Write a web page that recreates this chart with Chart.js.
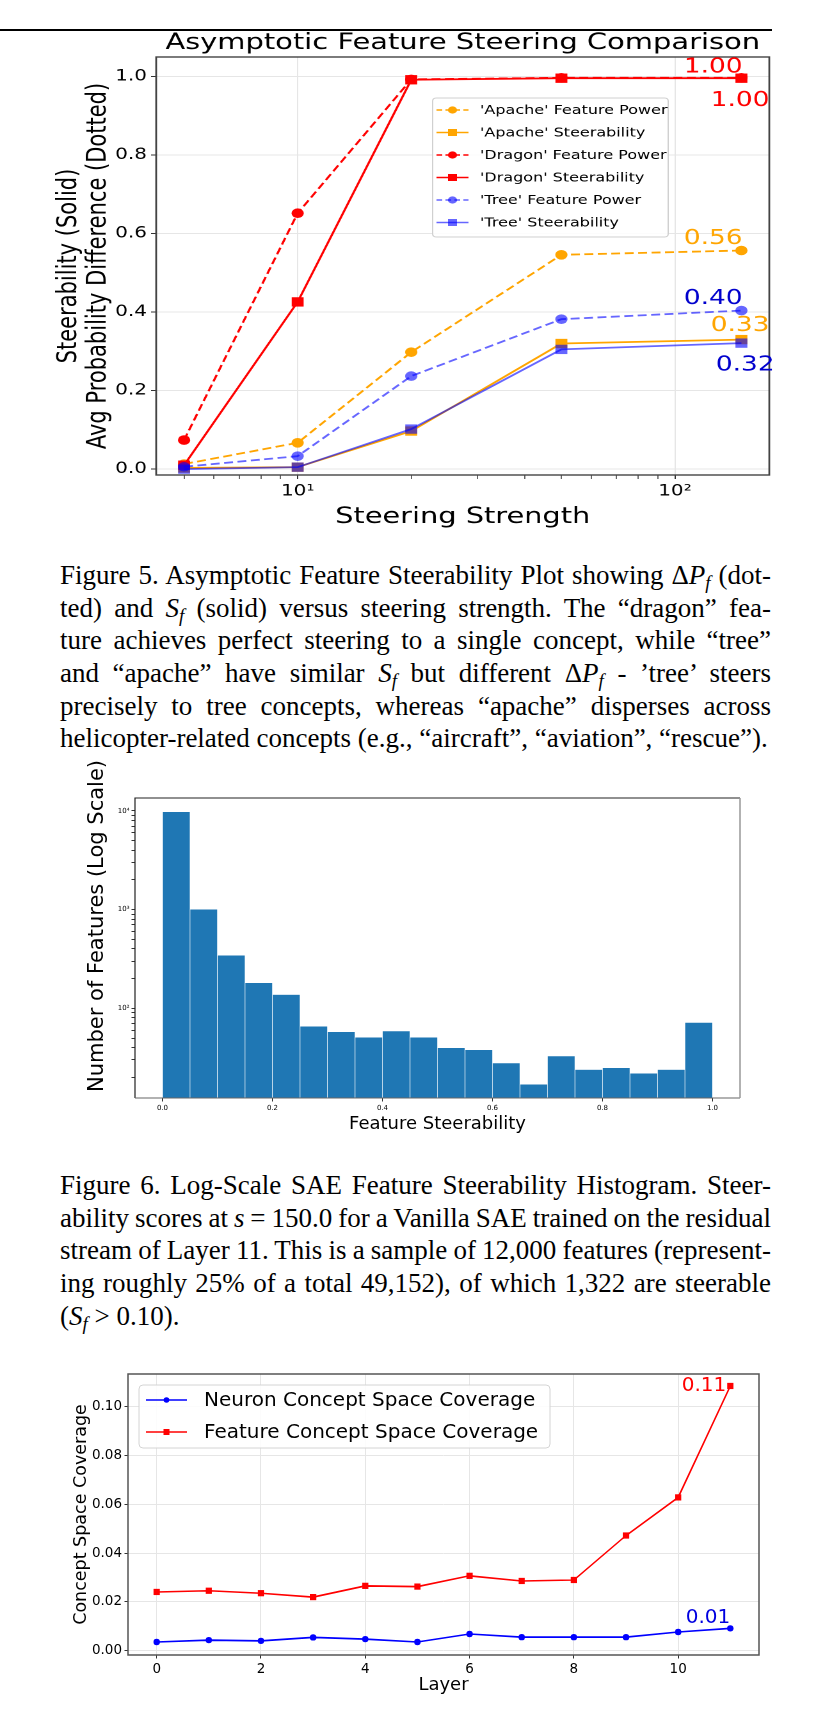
<!DOCTYPE html>
<html><head><meta charset="utf-8">
<script src="https://cdn.jsdelivr.net/npm/chart.js@4.4.0/dist/chart.umd.min.js"></script>
<style>
html,body{margin:0;padding:0;background:#fff;}
body{width:832px;height:1727px;position:relative;overflow:hidden;}
.abs{position:absolute;}
#rule{left:0;top:29px;width:772px;height:1.6px;background:#000;}
#c1wrap{left:0;top:0;width:650px;height:545px;transform:scaleX(1.28);transform-origin:0 0;}
#c2wrap{left:0;top:760px;width:832px;height:385px;}
#c3wrap{left:0;top:1350px;width:832px;height:377px;}
.cap{position:absolute;left:60px;width:711px;font-family:'Liberation Serif','Times New Roman',serif;font-size:27px;line-height:32.7px;color:#000;}
.cap .ln{white-space:nowrap;height:32.7px;}
.cap .ln span.t{white-space:nowrap;}
.cap sub{font-size:0.7em;vertical-align:-0.25em;line-height:0;}
</style></head><body>
<div id="rule" class="abs"></div>
<div id="c1wrap" class="abs"><canvas id="c1" width="650" height="545"></canvas></div>

<div class="cap" style="top:559px;">
<div class="ln j"><span class="t">Figure 5. Asymptotic Feature Steerability Plot showing Δ<i>P<sub>f</sub></i> (dot-</span></div>
<div class="ln j"><span class="t">ted) and <i>S<sub>f</sub></i> (solid) versus steering strength. The “dragon” fea-</span></div>
<div class="ln j"><span class="t">ture achieves perfect steering to a single concept, while “tree”</span></div>
<div class="ln j"><span class="t">and “apache” have similar <i>S<sub>f</sub></i> but different Δ<i>P<sub>f</sub></i> - ’tree’ steers</span></div>
<div class="ln j"><span class="t">precisely to tree concepts, whereas “apache” disperses across</span></div>
<div class="ln"><span class="t">helicopter-related concepts (e.g., “aircraft”, “aviation”, “rescue”).</span></div>
</div>

<div id="c2wrap" class="abs"><canvas id="c2" width="832" height="385"></canvas></div>

<div class="cap" style="top:1169px;">
<div class="ln j"><span class="t">Figure 6. Log-Scale SAE Feature Steerability Histogram. Steer-</span></div>
<div class="ln j"><span class="t">ability scores at <i>s</i> = 150.0 for a Vanilla SAE trained on the residual</span></div>
<div class="ln j"><span class="t">stream of Layer 11. This is a sample of 12,000 features (represent-</span></div>
<div class="ln j"><span class="t">ing roughly 25% of a total 49,152), of which 1,322 are steerable</span></div>
<div class="ln"><span class="t">(<i>S<sub>f</sub></i> &gt; 0.10).</span></div>
</div>

<div id="c3wrap" class="abs"><canvas id="c3" width="832" height="377"></canvas></div>

<script>
// ---------------- DATA ----------------
// Figure 5: asymptotic steering
const steerStrength = [5, 10, 20, 50, 150];
const apacheFeaturePower = [0.013, 0.067, 0.298, 0.546, 0.557];
const apacheSteerability = [0.003, 0.005, 0.097, 0.320, 0.330];
const dragonFeaturePower = [0.074, 0.652, 0.993, 0.997, 0.997];
const dragonSteerability = [0.010, 0.426, 0.992, 0.996, 0.996];
const treeFeaturePower = [0.006, 0.033, 0.237, 0.382, 0.404];
const treeSteerability = [0.000, 0.005, 0.102, 0.305, 0.321];
const steerYTicks = [0, 0.2, 0.4, 0.6, 0.8, 1.0];
const steerXMajorTicks = [10, 100];
const steerXMajorLabels = ['10¹', '10²'];

// Figure 6: steerability histogram
const histBinCenters = [0.025, 0.075, 0.125, 0.175, 0.225, 0.275, 0.325, 0.375, 0.425, 0.475,
                        0.525, 0.575, 0.625, 0.675, 0.725, 0.775, 0.825, 0.875, 0.925, 0.975];
const histCounts = [9800, 1010, 345, 182, 138, 66, 58, 51, 59, 51,
                    40, 38, 28, 17, 33, 24, 25, 22, 24, 72];
const histXTicks = [0, 0.2, 0.4, 0.6, 0.8, 1.0];
const histYMajorTicks = [100, 1000, 10000];
const histYMajorLabels = ['10²', '10³', '10⁴'];

// Figure 7: concept space coverage
const layers = [0, 1, 2, 3, 4, 5, 6, 7, 8, 9, 10, 11];
const neuronCoverage = [0.0036, 0.0044, 0.0041, 0.0055, 0.0048, 0.0036, 0.0069, 0.0056, 0.0056, 0.0056, 0.0077, 0.0092];
const featureCoverage = [0.0241, 0.0246, 0.0236, 0.0220, 0.0266, 0.0263, 0.0307, 0.0286, 0.0290, 0.0472, 0.0628, 0.1084];
const layerTicks = [0, 2, 4, 6, 8, 10];
const coverageTicks = [0, 0.02, 0.04, 0.06, 0.08, 0.10];

// ---------------- STYLE ----------------
const FONT = "'DejaVu Sans', sans-serif";
Chart.defaults.font.family = FONT;
Chart.defaults.color = '#000';
const ORANGE = '#ffa500', RED = '#ff0000', TREE = 'rgba(0,0,255,0.6)';
const GRID = '#e6e6e6';

function minorTicks(majors, lo, hi) {
  const out = [];
  [1, 10, 100, 1000, 10000].forEach(d => {
    for (let k = 1; k <= 9; k++) {
      const v = k * d;
      if (v >= lo && v <= hi && !majors.includes(v)) out.push(v);
    }
  });
  return out;
}

function drawMarker(ctx, style, x, y, r, color) {
  ctx.fillStyle = color;
  ctx.beginPath();
  if (style === 'rect') { ctx.rect(x - r, y - r, 2 * r, 2 * r); }
  else { ctx.arc(x, y, r, 0, Math.PI * 2); }
  ctx.fill();
}

function roundRect(ctx, x, y, w, h, r) {
  ctx.beginPath();
  ctx.moveTo(x + r, y); ctx.lineTo(x + w - r, y); ctx.quadraticCurveTo(x + w, y, x + w, y + r);
  ctx.lineTo(x + w, y + h - r); ctx.quadraticCurveTo(x + w, y + h, x + w - r, y + h);
  ctx.lineTo(x + r, y + h); ctx.quadraticCurveTo(x, y + h, x, y + h - r);
  ctx.lineTo(x, y + r); ctx.quadraticCurveTo(x, y, x + r, y); ctx.closePath();
}

// ---------------- CHART 1 ----------------
function series(label, vals, color, dashed, style, order) {
  return {
    label, data: steerStrength.map((x, i) => ({x, y: vals[i]})),
    borderColor: color, backgroundColor: color, borderWidth: 1.8,
    borderDash: dashed ? [7, 3.5] : [], pointStyle: style,
    pointRadius: style === 'rect' ? 6.6 : 4.8, pointBackgroundColor: color,
    pointBorderWidth: 0, pointHoverRadius: 0, tension: 0, clip: false, order,
    _dashed: dashed
  };
}
const c1Annotations = [
  {ds: 2, idx: 4, dx: -22, dy: -10.5, color: RED},
  {ds: 3, idx: 4, dx: -1, dy: 22.5, color: RED},
  {ds: 0, idx: 4, dx: -22, dy: -12, color: ORANGE},
  {ds: 4, idx: 4, dx: -22, dy: -12, color: '#0000cd'},
  {ds: 1, idx: 4, dx: -1, dy: -14, color: ORANGE},
  {ds: 5, idx: 4, dx: 3, dy: 22, color: '#0000cd'}
];
const c1Plugin = {
  id: 'c1extras',
  afterDatasetsDraw(chart) {
    const ctx = chart.ctx, a = chart.chartArea;
    ctx.save();
    ctx.strokeStyle = '#444'; ctx.lineWidth = 1.4; ctx.setLineDash([]);
    ctx.strokeRect(a.left, a.top, a.right - a.left, a.bottom - a.top);
    // legend
    const lx = 338, ly = 98, lw = 184, lh = 139;
    roundRect(ctx, lx, ly, lw, lh, 3);
    ctx.fillStyle = 'rgba(255,255,255,0.85)'; ctx.fill();
    ctx.strokeStyle = '#d0d0d0'; ctx.lineWidth = 1; ctx.stroke();
    ctx.font = '12.5px ' + FONT; ctx.textAlign = 'left'; ctx.textBaseline = 'middle';
    chart.data.datasets.forEach((d, i) => {
      const y = 110 + i * 22.5;
      ctx.strokeStyle = d.borderColor; ctx.lineWidth = 1.6;
      ctx.setLineDash(d._dashed ? [4.5, 2.5] : []);
      ctx.beginPath(); ctx.moveTo(341, y); ctx.lineTo(366, y); ctx.stroke();
      ctx.setLineDash([]);
      drawMarker(ctx, d.pointStyle, 353.5, y, d.pointStyle === 'rect' ? 3.5 : 3.6, d.borderColor);
      ctx.fillStyle = '#000';
      ctx.fillText(d.label, 375, y + 0.5);
    });
    // value annotations
    ctx.font = '20.6px ' + FONT; ctx.textAlign = 'center'; ctx.textBaseline = 'middle';
    c1Annotations.forEach(an => {
      const pt = chart.getDatasetMeta(an.ds).data[an.idx];
      const v = chart.data.datasets[an.ds].data[an.idx].y;
      ctx.fillStyle = an.color;
      ctx.fillText(v.toFixed(2), pt.x + an.dx, pt.y + an.dy);
    });
    // title
    ctx.font = '22.6px ' + FONT; ctx.fillStyle = '#000';
    ctx.fillText('Asymptotic Feature Steering Comparison', (a.left + a.right) / 2, 43);
    ctx.restore();
  }
};
const c1XMin = Math.pow(10, 0.625), c1XMax = Math.pow(10, 2.25);
const c1XMinor = minorTicks(steerXMajorTicks, c1XMin, c1XMax);
new Chart(document.getElementById('c1'), {
  type: 'line',
  data: {datasets: [
    series("'Apache' Feature Power", apacheFeaturePower, ORANGE, true, 'circle', 5),
    series("'Apache' Steerability", apacheSteerability, ORANGE, false, 'rect', 4),
    series("'Dragon' Feature Power", dragonFeaturePower, RED, true, 'circle', 3),
    series("'Dragon' Steerability", dragonSteerability, RED, false, 'rect', 2),
    series("'Tree' Feature Power", treeFeaturePower, TREE, true, 'circle', 1),
    series("'Tree' Steerability", treeSteerability, TREE, false, 'rect', 0)
  ]},
  options: {
    responsive: false, animation: false, devicePixelRatio: 2,
    layout: {padding: {top: 57, right: 49, bottom: 0, left: 0}},
    plugins: {legend: {display: false}, tooltip: {enabled: false}, title: {display: false}},
    scales: {
      x: {
        type: 'logarithmic', min: c1XMin, max: c1XMax,
        afterBuildTicks: s => { s.ticks = steerXMajorTicks.concat(c1XMinor).sort((p, q) => p - q).map(v => ({value: v})); },
        ticks: {autoSkip: false, maxRotation: 0, font: {size: 15.6}, padding: 3,
          callback: v => { const k = steerXMajorTicks.indexOf(v); return k >= 0 ? steerXMajorLabels[k] : ''; }},
        grid: {color: c => (c.tick && steerXMajorTicks.includes(c.tick.value)) ? GRID : 'rgba(0,0,0,0)',
               tickColor: c => (c.tick && steerXMajorTicks.includes(c.tick.value)) ? '#333' : '#666',
               tickLength: 4, lineWidth: 1},
        border: {display: false},
        title: {display: true, text: 'Steering Strength', font: {size: 22.5, lineHeight: 1.2}, padding: {top: 0, bottom: 14.5}},
        afterFit: s => { s.height = 70; }
      },
      y: {
        type: 'linear', min: -0.015, max: 1.05,
        afterBuildTicks: s => { s.ticks = steerYTicks.map(v => ({value: v})); },
        ticks: {font: {size: 15.6}, padding: 3.2, callback: v => v.toFixed(1)},
        grid: {color: GRID, tickColor: '#333', tickLength: 4},
        border: {display: false},
        title: {display: true, text: ['Steerability (Solid)', 'Avg Probability Difference (Dotted)'],
                font: {size: 21, lineHeight: 1.1}, padding: {top: 42.5, bottom: 0}},
        afterFit: s => { s.width = 122; }
      }
    }
  },
  plugins: [c1Plugin]
});

// ---------------- CHART 2 (histogram) ----------------
const c2YMin = Math.pow(10, 1.092), c2YMax = Math.pow(10, 4.13);
const c2YMinor = minorTicks(histYMajorTicks, c2YMin, c2YMax);
const c2Plugin = {
  id: 'c2frame',
  afterDatasetsDraw(chart) {
    const ctx = chart.ctx, a = chart.chartArea;
    ctx.save();
    ctx.lineWidth = 1.2;
    ctx.strokeStyle = '#222';
    ctx.beginPath(); ctx.moveTo(a.left, a.bottom); ctx.lineTo(a.left, a.top); ctx.lineTo(a.right, a.top); ctx.stroke();
    ctx.strokeStyle = '#666';
    ctx.beginPath(); ctx.moveTo(a.left, a.bottom); ctx.lineTo(a.right, a.bottom); ctx.stroke();
    ctx.strokeStyle = '#999'; ctx.lineWidth = 1.5;
    ctx.beginPath(); ctx.moveTo(a.right, a.top); ctx.lineTo(a.right, a.bottom); ctx.stroke();
    // y-axis label (sits slightly above the axis centre in the original)
    ctx.translate(98, 166);
    ctx.rotate(-Math.PI / 2);
    ctx.font = '21px ' + FONT; ctx.fillStyle = '#000';
    ctx.textAlign = 'center'; ctx.textBaseline = 'middle';
    ctx.fillText('Number of Features (Log Scale)', 0, 0);
    ctx.restore();
  }
};
new Chart(document.getElementById('c2'), {
  type: 'bar',
  data: {datasets: [{
    label: 'Features',
    data: histBinCenters.map((x, i) => ({x, y: histCounts[i]})),
    backgroundColor: '#1f77b4', borderColor: 'rgba(255,255,255,0.3)', borderWidth: 0.6,
    borderSkipped: 'bottom', barPercentage: 1, categoryPercentage: 1, grouped: false
  }]},
  options: {
    responsive: false, animation: false,
    layout: {padding: {top: 38, right: 92, bottom: 0, left: 0}},
    plugins: {legend: {display: false}, tooltip: {enabled: false}},
    scales: {
      x: {
        type: 'linear', min: -0.05, max: 1.05, offset: false,
        afterBuildTicks: s => { s.ticks = histXTicks.map(v => ({value: v})); },
        ticks: {font: {size: 7}, padding: 2, maxRotation: 0, callback: v => v.toFixed(1)},
        grid: {offset: false, drawOnChartArea: false, tickColor: '#333', tickLength: 3.5},
        border: {display: false},
        title: {display: true, text: 'Feature Steerability', font: {size: 18, lineHeight: 1.2}, padding: {top: 0, bottom: 10.2}},
        afterFit: s => { s.height = 47; }
      },
      y: {
        type: 'logarithmic', min: c2YMin, max: c2YMax,
        afterBuildTicks: s => { s.ticks = histYMajorTicks.concat(c2YMinor).sort((p, q) => p - q).map(v => ({value: v})); },
        ticks: {autoSkip: false, font: {size: 7}, padding: 2,
          callback: v => { const k = histYMajorTicks.indexOf(v); return k >= 0 ? histYMajorLabels[k] : ''; }},
        grid: {drawOnChartArea: false, tickColor: '#333', tickLength: 3.5},
        border: {display: false},
        title: {display: false},
        afterFit: s => { s.width = 135; }
      }
    }
  },
  plugins: [c2Plugin]
});

// ---------------- CHART 3 ----------------
const c3Annotations = [
  {ds: 1, idx: 11, dx: -4, dy: 0, color: RED},
  {ds: 0, idx: 11, dx: 0, dy: -11, color: '#0000e0'}
];
const c3Plugin = {
  id: 'c3extras',
  afterDatasetsDraw(chart) {
    const ctx = chart.ctx, a = chart.chartArea;
    ctx.save();
    ctx.strokeStyle = '#555'; ctx.lineWidth = 1.5;
    ctx.strokeRect(a.left, a.top, a.right - a.left, a.bottom - a.top);
    // legend
    roundRect(ctx, 139, 35, 411, 63, 4);
    ctx.fillStyle = 'rgba(255,255,255,0.85)'; ctx.fill();
    ctx.strokeStyle = '#d4d4d4'; ctx.lineWidth = 1; ctx.stroke();
    ctx.font = '20px ' + FONT; ctx.textAlign = 'left'; ctx.textBaseline = 'middle';
    chart.data.datasets.forEach((d, i) => {
      const y = 50 + i * 32;
      ctx.strokeStyle = d.borderColor; ctx.lineWidth = 1.6;
      ctx.beginPath(); ctx.moveTo(146, y); ctx.lineTo(187, y); ctx.stroke();
      drawMarker(ctx, d.pointStyle, 166.5, y, d.pointStyle === 'rect' ? 3 : 2.8, d.borderColor);
      ctx.fillStyle = '#000';
      ctx.fillText(d.label, 204, y + 1);
    });
    // annotations
    ctx.font = '20px ' + FONT; ctx.textAlign = 'right'; ctx.textBaseline = 'middle';
    c3Annotations.forEach(an => {
      const pt = chart.getDatasetMeta(an.ds).data[an.idx];
      const v = chart.data.datasets[an.ds].data[an.idx].y;
      ctx.fillStyle = an.color;
      ctx.fillText(v.toFixed(2), pt.x + an.dx, pt.y + an.dy);
    });
    ctx.restore();
  }
};
new Chart(document.getElementById('c3'), {
  type: 'line',
  data: {datasets: [
    {label: 'Neuron Concept Space Coverage', data: layers.map((x, i) => ({x, y: neuronCoverage[i]})),
     borderColor: '#0000ff', backgroundColor: '#0000ff', borderWidth: 1.6, pointStyle: 'circle',
     pointRadius: 3.2, pointBackgroundColor: '#0000ff', pointBorderWidth: 0, pointHoverRadius: 0, tension: 0, clip: false},
    {label: 'Feature Concept Space Coverage', data: layers.map((x, i) => ({x, y: featureCoverage[i]})),
     borderColor: '#ff0000', backgroundColor: '#ff0000', borderWidth: 1.6, pointStyle: 'rect',
     pointRadius: 4.4, pointBackgroundColor: '#ff0000', pointBorderWidth: 0, pointHoverRadius: 0, tension: 0, clip: false}
  ]},
  options: {
    responsive: false, animation: false,
    layout: {padding: {top: 24, right: 73, bottom: 0, left: 0}},
    plugins: {legend: {display: false}, tooltip: {enabled: false}},
    scales: {
      x: {
        type: 'linear', min: -0.55, max: 11.55,
        afterBuildTicks: s => { s.ticks = layerTicks.map(v => ({value: v})); },
        ticks: {font: {size: 13.5}, padding: 2.5, maxRotation: 0, callback: v => String(v)},
        grid: {color: GRID, tickColor: '#333', tickLength: 3.5},
        border: {display: false},
        title: {display: true, text: 'Layer', font: {size: 18, lineHeight: 1.2}, padding: {top: 0, bottom: 31.2}},
        afterFit: s => { s.height = 72; }
      },
      y: {
        type: 'linear', min: -0.0017, max: 0.1133,
        afterBuildTicks: s => { s.ticks = coverageTicks.map(v => ({value: v})); },
        ticks: {font: {size: 13.5}, padding: 2.5, callback: v => v.toFixed(2)},
        grid: {color: GRID, tickColor: '#333', tickLength: 3.5},
        border: {display: false},
        title: {display: true, text: 'Concept Space Coverage', font: {size: 17.5, lineHeight: 1.2}, padding: {top: 70.5, bottom: 0}},
        afterFit: s => { s.width = 128; }
      }
    }
  },
  plugins: [c3Plugin]
});

// ---------------- caption justification ----------------
function justifyCaptions() {
  document.querySelectorAll('.cap .ln').forEach(div => {
    const span = div.querySelector('span.t');
    span.style.wordSpacing = '0px';
    const w = span.getBoundingClientRect().width;
    const spaces = (span.textContent.match(/ /g) || []).length;
    const target = 711;
    if (!spaces) return;
    if (div.classList.contains('j') || w > target) {
      span.style.wordSpacing = ((target - w) / spaces) + 'px';
    }
  });
}
justifyCaptions();
if (document.fonts && document.fonts.ready) document.fonts.ready.then(justifyCaptions);
</script>
</body></html>
